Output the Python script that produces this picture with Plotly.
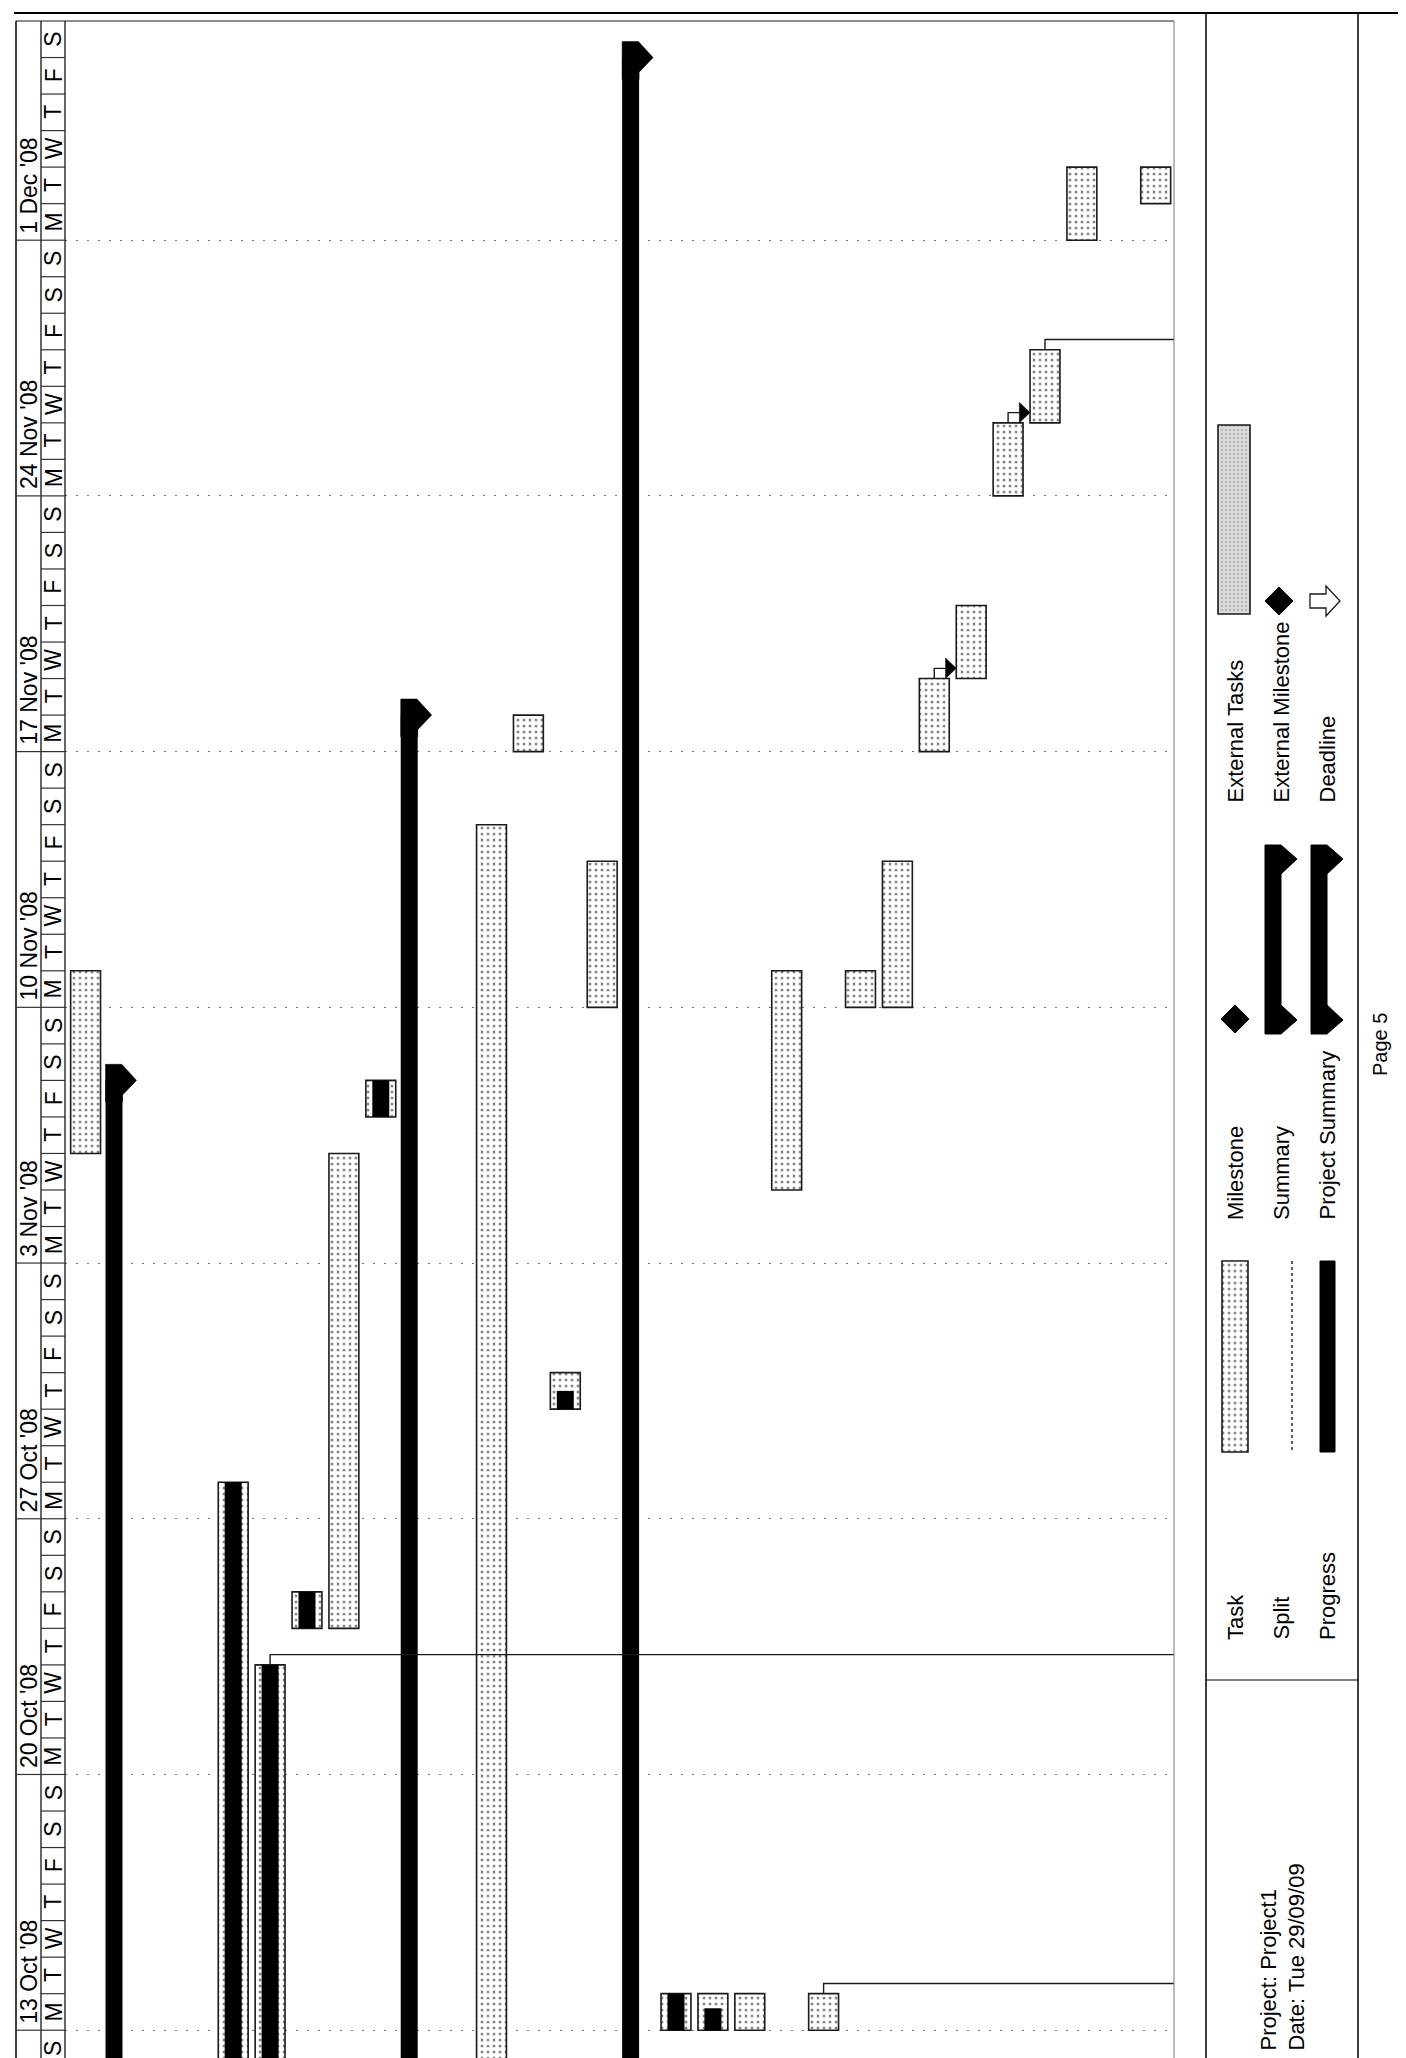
import plotly.graph_objects as go
import pandas as pd

W, H = 1406, 2058
T0 = pd.Timestamp("2008-10-13")
FONT = "Liberation Sans, Arial, sans-serif"
INK = "#1a1a1a"


def day(s):
    return (pd.Timestamp(s) - T0) / pd.Timedelta(days=1)


# ---------------- data (rows are task lines, left = earlier task) ----------------
task_row = [-1, 3, 4, 5, 6, 7, 10, 11, 12, 13, 15, 16, 17, 18, 19, 20, 21, 22, 23, 24, 25, 26, 28]
task_start = ["2008-11-06", "2008-10-06", "2008-10-06", "2008-10-24", "2008-10-24", "2008-11-07",
              "2008-10-06", "2008-11-17", "2008-10-30", "2008-11-10", "2008-10-13", "2008-10-13",
              "2008-10-13", "2008-11-05", "2008-10-13", "2008-11-10", "2008-11-10", "2008-11-17",
              "2008-11-19", "2008-11-24", "2008-11-26", "2008-12-01", "2008-12-02"]
task_finish = ["2008-11-11", "2008-10-28", "2008-10-23", "2008-10-25", "2008-11-06", "2008-11-08",
               "2008-11-15", "2008-11-18", "2008-10-31", "2008-11-14", "2008-10-14", "2008-10-14",
               "2008-10-14", "2008-11-11", "2008-10-14", "2008-11-11", "2008-11-14", "2008-11-19",
               "2008-11-21", "2008-11-26", "2008-11-28", "2008-12-03", "2008-12-03"]
task_pct = [0, 100, 100, 100, 0, 100, 0, 0, 50, 0, 100, 60, 0, 0, 0, 0, 0, 0, 0, 0, 0, 0, 0]

summary_row = [0, 8, 14]
summary_start = ["2008-10-06", "2008-10-06", "2008-10-06"]
summary_finish = ["2008-11-08", "2008-11-18", "2008-12-06"]

link_from = [4, 19, 22, 24, 25]
link_to = [None, None, 23, 25, None]

week_starts = ["2008-10-13", "2008-10-20", "2008-10-27", "2008-11-03",
               "2008-11-10", "2008-11-17", "2008-11-24", "2008-12-01"]
timescale_first, timescale_last = "2008-10-12", "2008-12-06"

legend_col1 = ["Task", "Milestone", "External Tasks"]
legend_col2 = ["Split", "Summary", "External Milestone"]
legend_col3 = ["Progress", "Project Summary", "Deadline"]
footer_text = "Project: Project1<br>Date: Tue 29/09/09"
page_text = "Page 5"

# ---------------- derived ----------------
t_s = [day(s) for s in task_start]
t_f = [day(f) for f in task_finish]
t_d = [f - s for s, f in zip(t_s, t_f)]

DOTS = dict(shape=".", fgcolor="#111", bgcolor="white", size=6, solidity=0.2)

fig = go.Figure()

# task bars
fig.add_trace(go.Bar(
    x=task_row, y=t_d, base=t_s, width=0.81, xaxis="x", yaxis="y",
    marker=dict(color="white", line=dict(color=INK, width=1.6), pattern=DOTS),
    hoverinfo="skip", showlegend=False))

# progress bars
p_x, p_b, p_y = [], [], []
for r, s, d, p in zip(task_row, t_s, t_d, task_pct):
    if p > 0:
        p_x.append(r); p_b.append(s); p_y.append(d * p / 100.0)
fig.add_trace(go.Bar(x=p_x, y=p_y, base=p_b, width=0.46, marker=dict(color="black", line=dict(width=0)),
                     hoverinfo="skip", showlegend=False))

# summary bars
s_s = [day(s) for s in summary_start]
s_f = [day(f) for f in summary_finish]
fig.add_trace(go.Bar(x=summary_row, y=[f - s for s, f in zip(s_s, s_f)], base=s_s, width=0.46, offset=-0.46,
                     marker=dict(color="black", line=dict(width=0)), hoverinfo="skip", showlegend=False))
cx, cy = [], []
for r, f in zip(summary_row, s_f):
    pts = [(r - 0.46, f - 0.6), (r - 0.46, f + 0.44), (r - 0.02, f + 0.44), (r + 0.38, f),
           (r, f - 0.40), (r, f - 0.6)]
    cx += [p[0] for p in pts] + [None]
    cy += [p[1] for p in pts] + [None]
fig.add_trace(go.Scatter(x=cx, y=cy, mode="lines", fill="toself", fillcolor="black",
                         line=dict(color="black", width=0.5), hoverinfo="skip", showlegend=False))

# dependency links
row_fin = dict(zip(task_row, t_f))
lx, ly, ax_, ay_ = [], [], [], []
for a, b in zip(link_from, link_to):
    f = row_fin[a]
    yy = f + 0.28
    if b is None:
        end = 30
    else:
        tip = b - 0.405
        end = tip - 0.29
        ax_ += [tip, end, end, tip, None]
        ay_ += [yy, yy + 0.28, yy - 0.28, yy, None]
    lx += [a, a, end, None]
    ly += [f, yy, yy, None]
fig.add_trace(go.Scatter(x=lx, y=ly, mode="lines", line=dict(color=INK, width=1.4),
                         hoverinfo="skip", showlegend=False))
fig.add_trace(go.Scatter(x=ax_, y=ay_, mode="lines", fill="toself", fillcolor="black",
                         line=dict(color="black", width=0.5), hoverinfo="skip", showlegend=False))

# ---------------- legend glyph bars (pixel subplot) ----------------
fig.add_trace(go.Bar(x=[1227], y=[191], base=[1253], width=26, xaxis="x2", yaxis="y2",
                     marker=dict(color="white", line=dict(color=INK, width=1.6), pattern=DOTS),
                     hoverinfo="skip", showlegend=False))
fig.add_trace(go.Bar(x=[1226], y=[189], base=[417], width=32, xaxis="x2", yaxis="y2",
                     marker=dict(color="#d4d4d4", line=dict(color=INK, width=1.6),
                                 pattern=dict(shape=".", fgcolor="#8c8c8c", bgcolor="#dcdcdc", size=4, solidity=0.3)),
                     hoverinfo="skip", showlegend=False))

shapes = []
annotations = []


def pline(x0, y0, x1, y1, color="black", width=1.5, dash="solid"):
    shapes.append(dict(type="line", xref="x2", yref="y2", x0=x0, y0=y0, x1=x1, y1=y1,
                       line=dict(color=color, width=width, dash=dash), layer="above"))


def ppath(path, fill="black", color="black", width=1):
    shapes.append(dict(type="path", xref="x2", yref="y2", path=path, fillcolor=fill,
                       line=dict(color=color, width=width), layer="above"))


def vtext(x, y, text, size=22, yanchor="bottom", align="left"):
    annotations.append(dict(x=x, y=y, xref="x2", yref="y2", text=text, textangle=-90,
                            showarrow=False, xanchor="center", yanchor=yanchor, align=align,
                            font=dict(family=FONT, size=size, color="black")))


# frame
pline(6, 5, 1399, 5, width=2)
pline(8, 13, 1166, 13, color="#666", width=1.5)
pline(8, 13, 8, H, width=1.5)
pline(33, 13, 33, H, width=1.2)
pline(57, 13, 57, H, width=1.2)
pline(1166, 13, 1166, H, color="#777", width=1)
pline(1198, 5, 1198, 2057, width=1.5)
pline(1350, 5, 1350, 2057, width=1.5)
pline(1198, 1672, 1350, 1672, width=1.2)
pline(1198, 2057, 1399, 2057, width=1.5)
pline(1399, 5, 1399, 2057, width=2)

# timescale header
days = pd.date_range(timescale_first, timescale_last, freq="D")
for d in days:
    dd = day(d)
    shapes.append(dict(type="line", xref="paper", yref="y", x0=33 / W, x1=57 / W, y0=dd, y1=dd,
                       line=dict(color="#333", width=1.2)))
    annotations.append(dict(x=45.5 / W, y=dd + 0.5, xref="paper", yref="y", text="SMTWTFS"[(d.dayofweek + 1) % 7],
                            textangle=-90, showarrow=False, xanchor="center", yanchor="middle",
                            font=dict(family=FONT, size=23, color="black")))
for ws in week_starts:
    d = pd.Timestamp(ws)
    dd = day(d)
    shapes.append(dict(type="line", xref="paper", yref="y", x0=8 / W, x1=33 / W, y0=dd, y1=dd,
                       line=dict(color="#333", width=1.2)))
    annotations.append(dict(x=21 / W, y=dd + 0.12, xref="paper", yref="y",
                            text=f"{d.day} {d:%b} '{d:%y}", textangle=-90, showarrow=False,
                            xanchor="center", yanchor="bottom",
                            font=dict(family=FONT, size=23, color="black")))

# legend texts
for col_x, items in zip([1227, 1273, 1319], [legend_col1, legend_col2, legend_col3]):
    for y_b, t in zip([1634, 1214, 797], items):
        vtext(col_x, y_b, t)

# legend glyphs
pline(1284, 1253, 1284, 1444, color="#333", width=1.6, dash="dot")      # split
ppath("M1312,1253 L1327,1253 L1327,1444 L1312,1444 Z")                  # progress
ppath("M1227,997 L1241,1011 L1227,1025 L1213,1011 Z")                   # milestone
ppath("M1271,579 L1285,593 L1271,607 L1257,593 Z")                      # external milestone
for xl in (1257, 1303):
    xr, xt = xl + 16, xl + 32
    ppath(f"M{xl},837 L{xr},837 L{xt},851 L{xr},866 L{xr},997 L{xt},1012 L{xr},1026 L{xl},1026 Z")
ppath("M1302,586 L1318,586 L1318,578 L1332,593 L1318,608 L1318,600 L1302,600 Z",
      fill="white", color=INK, width=1.3)                               # deadline

vtext(1274, 2045, footer_text)
vtext(1372, 1037, page_text, size=20, yanchor="middle")

fig.update_layout(
    width=W, height=H, margin=dict(l=0, r=0, t=0, b=0),
    paper_bgcolor="white", plot_bgcolor="rgba(0,0,0,0)",
    barmode="overlay", showlegend=False,
    shapes=shapes, annotations=annotations,
    xaxis=dict(domain=[57 / W, 1166 / W], range=[-1.558, 28.496], showgrid=False, zeroline=False,
               showticklabels=False, ticks="", showline=False, fixedrange=True),
    yaxis=dict(domain=[0, 1 - 13 / H], range=[-0.98, 55], zeroline=False, showticklabels=False, ticks="",
               showline=False, showgrid=True, tickmode="array",
               tickvals=[day(w) for w in week_starts], gridcolor="#777", gridwidth=1.2,
               griddash="2px,9px", fixedrange=True),
    xaxis2=dict(domain=[0, 1], range=[0, W], visible=False, anchor="y2", fixedrange=True),
    yaxis2=dict(domain=[0, 1], range=[H, 0], visible=False, anchor="x2", fixedrange=True),
)

fig.write_html("out.html")
